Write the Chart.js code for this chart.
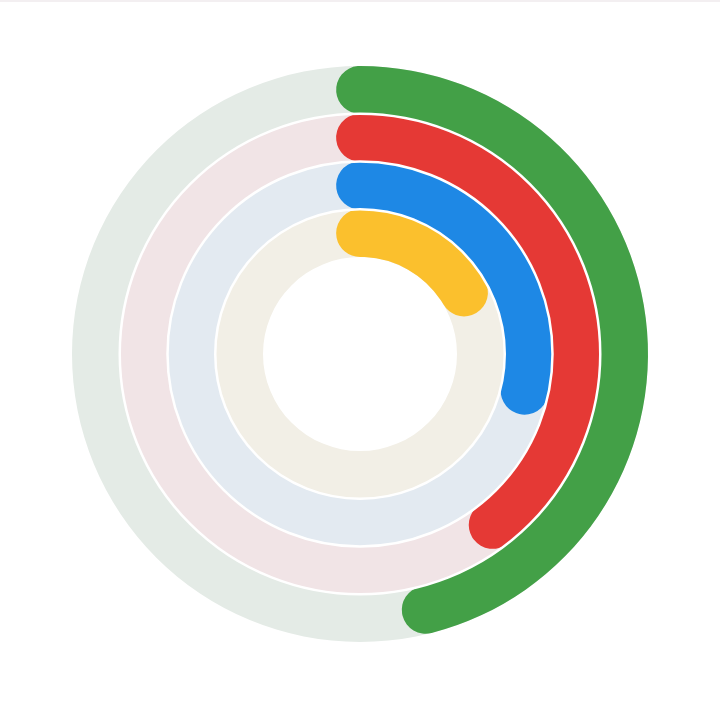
<!DOCTYPE html>
<html>
<head>
<meta charset="utf-8">
<script src="https://cdn.jsdelivr.net/npm/chart.js@4.4.0/dist/chart.umd.min.js"></script>
<style>
  html, body { margin: 0; padding: 0; background: #fff; }
  #wrap { position: relative; width: 720px; height: 720px; }
  #topline { position: absolute; left: 0; top: 0; width: 720px; height: 2px; background: #f3eff1; }
</style>
</head>
<body>
<div id="wrap">
  <canvas id="chartArea" width="720" height="720"></canvas>
  <div id="topline"></div>
</div>
<script>
// Rings, outer to inner
var ringNames = ['Green', 'Red', 'Blue', 'Yellow'];
var ringValues = [46, 39.5, 28.5, 16.5]; // percent of full circle
var ringColors = ['#43A047', '#E53935', '#1E88E5', '#FBC02D'];
var trackColors = ['#E4EBE6', '#F1E4E6', '#E3EAF1', '#F2EFE6'];

// Light track behind each ring, and thin white separators between rings
var trackPlugin = {
  id: 'tracks',
  beforeDatasetsDraw: function(chart) {
    var ctx = chart.ctx;
    chart.data.datasets.forEach(function(ds, i) {
      var el = chart.getDatasetMeta(i).data[0];
      if (!el) return;
      ctx.save();
      ctx.beginPath();
      ctx.arc(el.x, el.y, el.outerRadius, 0, Math.PI * 2);
      ctx.arc(el.x, el.y, el.innerRadius, 0, Math.PI * 2, true);
      ctx.closePath();
      ctx.fillStyle = trackColors[i];
      ctx.fill();
      ctx.restore();
    });
  },
  afterDatasetsDraw: function(chart) {
    var ctx = chart.ctx;
    chart.data.datasets.forEach(function(ds, i) {
      if (i === 0) return;
      var el = chart.getDatasetMeta(i).data[0];
      ctx.save();
      ctx.beginPath();
      ctx.arc(el.x, el.y, el.outerRadius, 0, Math.PI * 2);
      ctx.lineWidth = 2.5;
      ctx.strokeStyle = '#ffffff';
      ctx.stroke();
      ctx.restore();
    });
  }
};

var datasets = ringValues.map(function(v, i) {
  return {
    label: ringNames[i],
    data: [v, 100 - v],
    backgroundColor: [ringColors[i], 'rgba(0,0,0,0)'],
    borderWidth: 0,
    borderRadius: [40, 0],
    rotation: 0
  };
});

var ctx = document.getElementById('chartArea').getContext('2d');
var chart = new Chart(ctx, {
  type: 'doughnut',
  data: { labels: ['value', 'rest'], datasets: datasets },
  options: {
    responsive: false,
    animation: false,
    events: [],
    cutout: 97,
    layout: { padding: { top: 66, bottom: 78, left: 72, right: 72 } },
    plugins: {
      legend: { display: false },
      tooltip: { enabled: false }
    }
  },
  plugins: [trackPlugin]
});

// Shift each value arc so its round cap is centred on 12 o'clock and on the end value
chart.data.datasets.forEach(function(ds, i) {
  var el = chart.getDatasetMeta(i).data[0];
  var half = (el.outerRadius - el.innerRadius) / 2;
  var mid = (el.outerRadius + el.innerRadius) / 2;
  var capDeg = half / mid * 180 / Math.PI;
  var v = ringValues[i] + 2 * capDeg / 3.6;
  ds.rotation = -capDeg;
  ds.data = [v, 100 - v];
});
chart.update('none');
</script>
</body>
</html>
